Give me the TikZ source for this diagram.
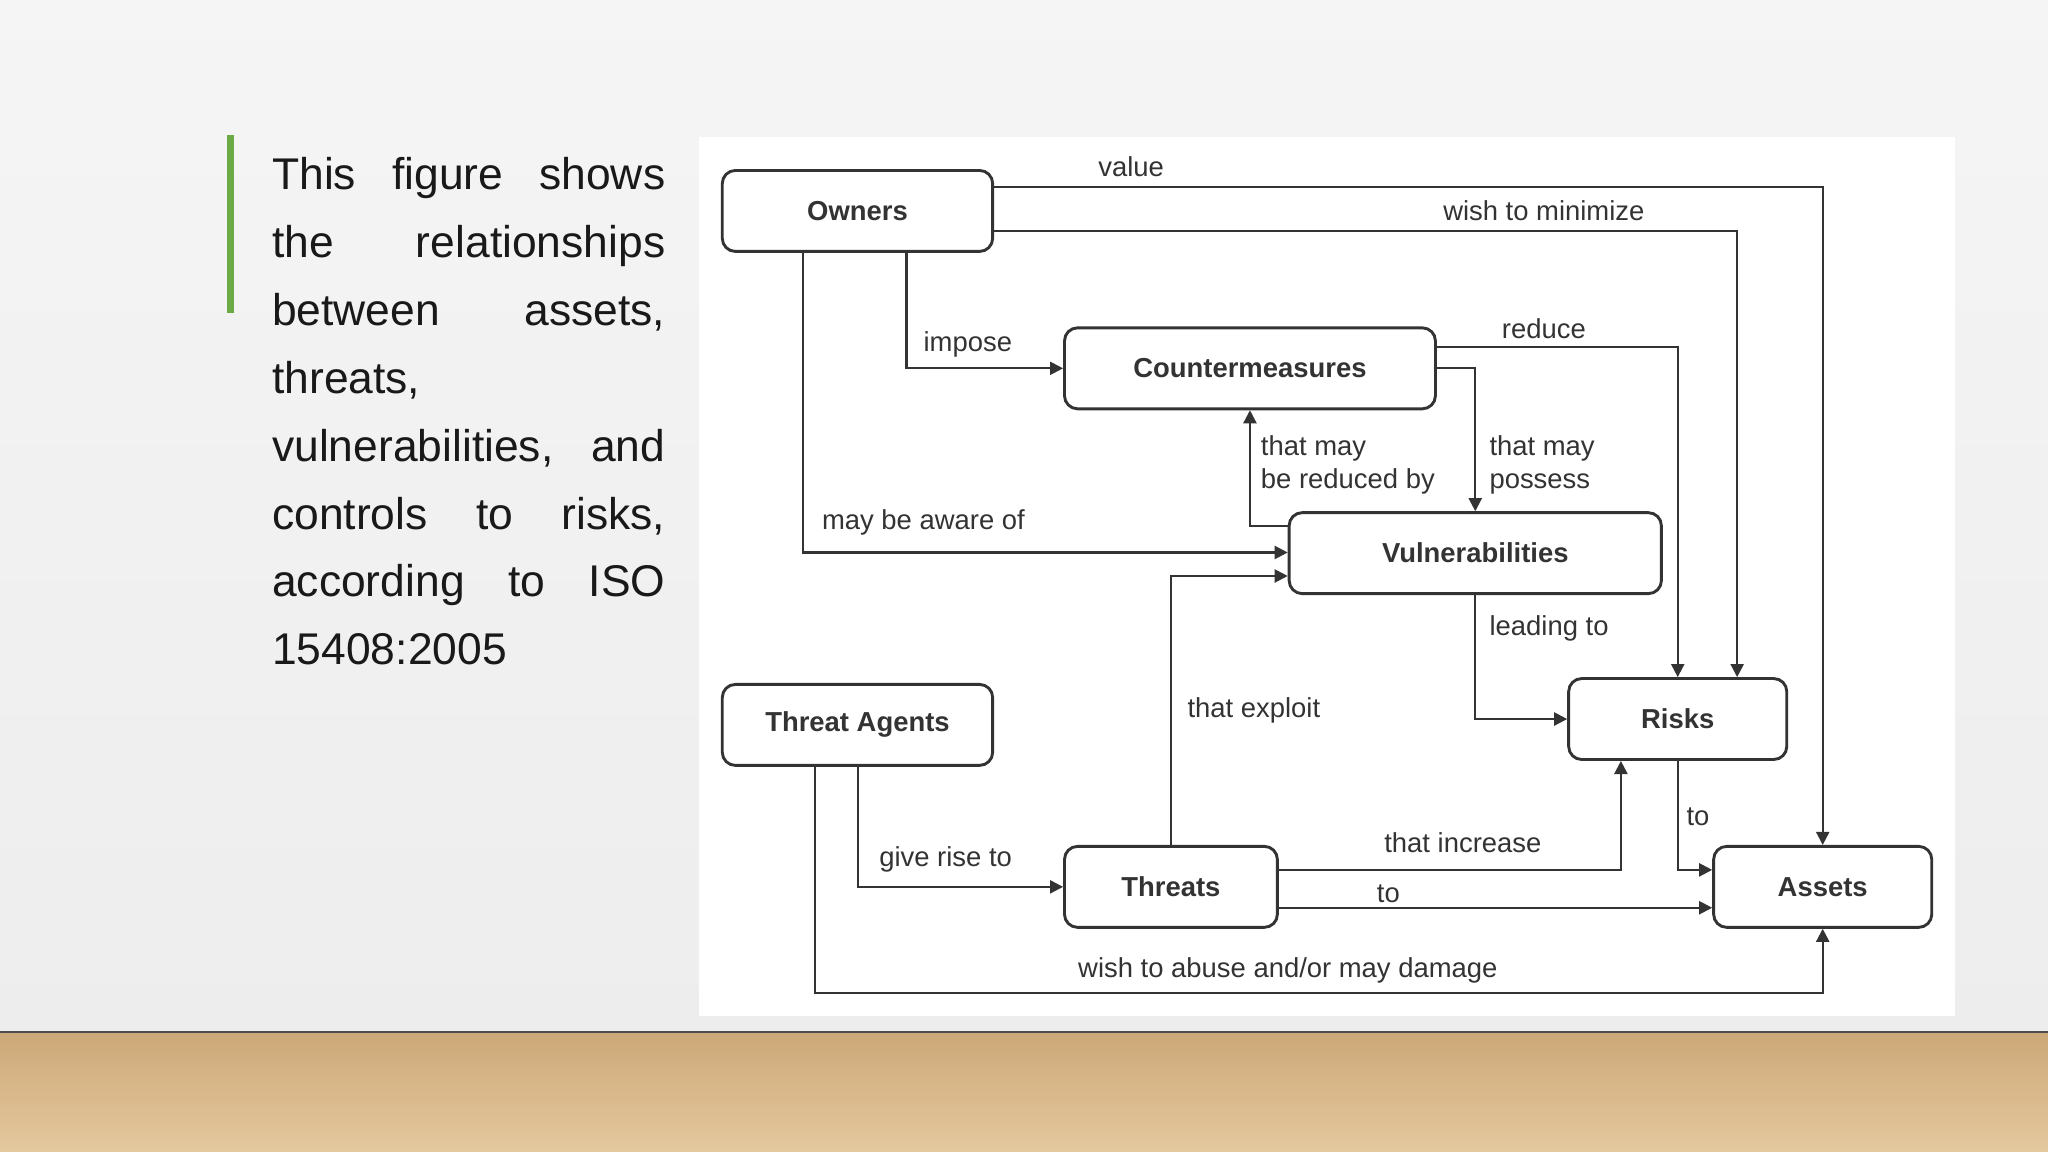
\documentclass[tikz,border=0pt]{standalone}
\usepackage{fontspec}
\setmainfont{Liberation Sans}
\usetikzlibrary{arrows.meta}
\definecolor{ln}{HTML}{333333}
\definecolor{grn}{HTML}{6BAA45}
\tikzset{
 box/.style={draw=ln,line width=1.1pt,rounded corners=5pt,fill=white,minimum height=31pt,font=\fontsize{10.5}{12}\selectfont\bfseries,text=ln},
 conn/.style={draw=ln,line width=0.8pt,-{Triangle[length=5pt,width=5pt]}},
 lab/.style={font=\fontsize{10.5}{12.5}\selectfont,text=ln,inner sep=0pt,align=left}
}
\begin{document}
\begin{tikzpicture}[x=0.5pt,y=-0.5pt]
\useasboundingbox (0,0) rectangle (1568,882);
\shade[top color=gray!8,bottom color=gray!14] (0,0) rectangle (1568,790);
\shade[top color={rgb,255:red,205;green,168;blue,120},bottom color={rgb,255:red,228;green,200;blue,158}] (0,790) rectangle (1568,882);
\draw[line width=1pt,black!70] (0,790) -- (1568,790);
\fill[white] (535,105) rectangle (1497,778);
\fill[grn] (174,103) rectangle (179,240);
\node[anchor=north west,inner sep=0pt,text width=150.5pt,align=justify,font=\fontsize{17}{26}\selectfont,text=black!90] (txt) at (208,120)
 {\hyphenpenalty=10000 This figure shows\linebreak the relationships\linebreak between assets,\linebreak threats,\newline vulnerabilities, and\linebreak controls to risks,\linebreak according to ISO\linebreak 15408:2005};
% nodes
\node[box,minimum width=103.5pt] (ow) at (656.5,161.5) {Owners};
\node[box,minimum width=142pt] (cm) at (957,282) {Countermeasures};
\node[box,minimum width=142.5pt] (vu) at (1129.5,423.5) {Vulnerabilities};
\node[box,minimum width=103.5pt] (ta) at (656.5,555) {Threat Agents};
\node[box,minimum width=83.5pt] (ri) at (1284.5,550.5) {Risks};
\node[box,minimum width=81.5pt] (th) at (896.5,679) {Threats};
\node[box,minimum width=83.5pt] (as) at (1395.5,679) {Assets};
% connectors
\draw[conn] (ow.east |- 0,143) -| (as.north);
\node[lab] (l1) at (866,128) {value};
\draw[conn] (ow.east |- 0,177) -| (1330,0 |- ri.north);
\node[lab] (l2) at (1182,161) {wish to minimize};
\draw[conn] (694,0 |- ow.south) |- (cm.west);
\node[lab] (l3) at (741,264) {impose};
\draw[conn] (615,0 |- ow.south) |- (vu.west |- 0,423);
\node[lab] (l4) at (707,400) {may be aware of};
\draw[conn] (cm.east |- 0,266) -| (ri.north);
\node[lab] (l5) at (1182,252) {reduce};
\draw[conn] (cm.east |- 0,282) -| (vu.north);
\node[lab,anchor=west] (l6) at (1140,356) {that may\\possess};
\draw[conn] (vu.west |- 0,403) -| (cm.south);
\node[lab,anchor=west] (l7) at (965,356) {that may\\be reduced by};
\draw[conn] (vu.south) |- (ri.west);
\node[lab] (l8) at (1186,481) {leading to};
\draw[conn] (th.north) |- (vu.west |- 0,441);
\node[lab] (l9) at (960,544) {that exploit};
\draw[conn] (657,0 |- ta.south) |- (th.west);
\node[lab] (l10) at (724,658) {give rise to};
\draw[conn] (624,0 |- ta.south) -- (624,760) -| (as.south);
\node[lab] (l11) at (986,743) {wish to abuse and/or may damage};
\draw[conn] (th.east |- 0,666) -| (1241,0 |- ri.south);
\node[lab] (l12) at (1120,645) {that increase};
\draw[conn] (th.east |- 0,695) -- (as.west |- 0,695);
\node[lab] (l13) at (1063,684) {to};
\draw[conn] (ri.south) |- (as.west |- 0,666);
\node[lab] (l14) at (1300,625) {to};
\end{tikzpicture}
\end{document}
